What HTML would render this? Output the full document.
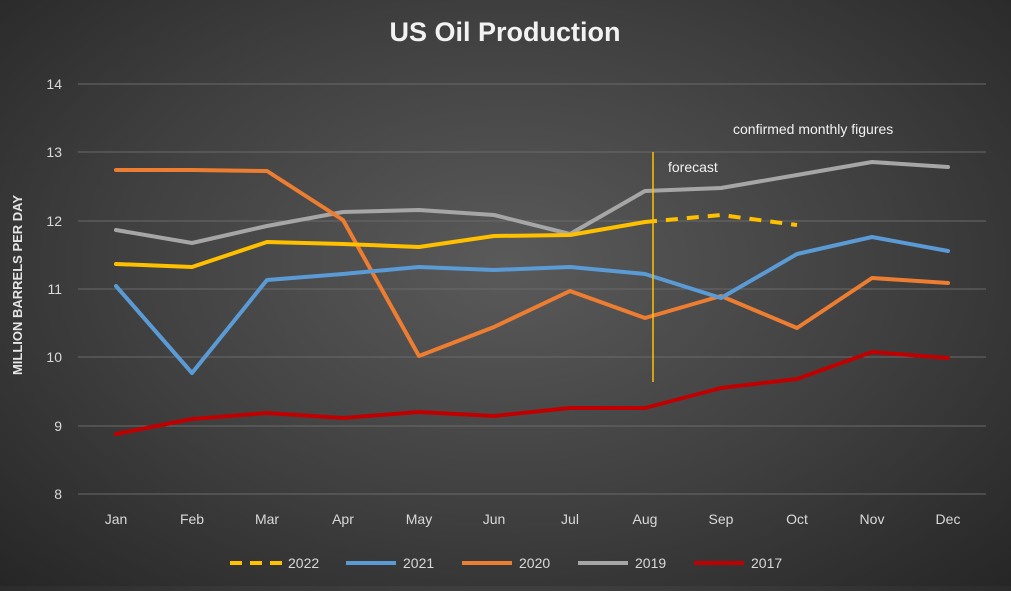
<!DOCTYPE html>
<html><head><meta charset="utf-8"><style>
html,body{margin:0;padding:0;}
body{width:1011px;height:586px;overflow:hidden;background:radial-gradient(ellipse at 50% 45%,#5a5a5a 0%,#3f3f3f 55%,#262626 100%);font-family:"Liberation Sans",sans-serif;}
</style></head><body>
<svg width="1011" height="586" xmlns="http://www.w3.org/2000/svg" font-family="Liberation Sans, sans-serif">
<text x="505" y="41" text-anchor="middle" fill="#f2f2f2" font-size="27" font-weight="bold">US Oil Production</text>
<g stroke="#6a6a6a" stroke-width="1">
<line x1="78" x2="986" y1="84" y2="84"/><line x1="78" x2="986" y1="152" y2="152"/><line x1="78" x2="986" y1="221" y2="221"/><line x1="78" x2="986" y1="289" y2="289"/><line x1="78" x2="986" y1="357" y2="357"/><line x1="78" x2="986" y1="426" y2="426"/><line x1="78" x2="986" y1="494" y2="494"/>
</g>
<g fill="#d9d9d9" font-size="14" text-anchor="end">
<text x="62" y="89">14</text><text x="62" y="157">13</text><text x="62" y="226">12</text><text x="62" y="294">11</text><text x="62" y="362">10</text><text x="62" y="431">9</text><text x="62" y="499">8</text>
</g>
<text transform="translate(22,285) rotate(-90)" text-anchor="middle" fill="#e6e6e6" font-size="13" font-weight="bold">MILLION BARRELS PER DAY</text>
<g fill="#d9d9d9" font-size="14" text-anchor="middle">
<text x="116" y="524">Jan</text><text x="192" y="524">Feb</text><text x="267" y="524">Mar</text><text x="343" y="524">Apr</text><text x="419" y="524">May</text><text x="494" y="524">Jun</text><text x="570" y="524">Jul</text><text x="645" y="524">Aug</text><text x="721" y="524">Sep</text><text x="797" y="524">Oct</text><text x="872" y="524">Nov</text><text x="948" y="524">Dec</text>
</g>
<g fill="none" stroke-width="4" stroke-linejoin="round" stroke-linecap="round">
<polyline stroke="#c00000" points="116,434 192,419 267,413 343,418 419,412 494,416 570,408 645,408 721,388 797,379 872,352 948,358"/>
<polyline stroke="#a6a6a6" points="116,230 192,243 267,226 343,212 419,210 494,215 570,234 645,191 721,188 797,175 872,162 948,167"/>
<polyline stroke="#ed7d31" points="116,170 192,170 267,171 343,220 419,356 494,327 570,291 645,318 721,296 797,328 872,278 948,283"/>
<polyline stroke="#5b9bd5" points="116,286 192,373 267,280 343,274 419,267 494,270 570,267 645,274 721,298 797,254 872,237 948,251"/>
<polyline stroke="#ffc000" points="116,264 192,267 267,242 343,244 419,247 494,236 570,235 645,222"/>
<polyline stroke="#ffc000" stroke-dasharray="12,9" stroke-linecap="butt" points="645,222 721,215 797,225"/>
</g>
<line x1="653" y1="152" x2="653" y2="382" stroke="#ffc000" stroke-width="1.5"/>
<text x="668" y="172" fill="#f2f2f2" font-size="14">forecast</text>
<text x="733" y="134" fill="#f2f2f2" font-size="14">confirmed monthly figures</text>
<g font-size="14" fill="#d9d9d9">
<line x1="230" y1="563" x2="282" y2="563" stroke="#ffc000" stroke-width="4" stroke-dasharray="12,8"/><text x="288" y="568">2022</text>
<line x1="346" y1="563" x2="396" y2="563" stroke="#5b9bd5" stroke-width="4"/><text x="403" y="568">2021</text>
<line x1="462" y1="563" x2="512" y2="563" stroke="#ed7d31" stroke-width="4"/><text x="519" y="568">2020</text>
<line x1="578" y1="563" x2="628" y2="563" stroke="#a6a6a6" stroke-width="4"/><text x="635" y="568">2019</text>
<line x1="694" y1="563" x2="744" y2="563" stroke="#c00000" stroke-width="4"/><text x="751" y="568">2017</text>
</g>
</svg>
</body></html>
